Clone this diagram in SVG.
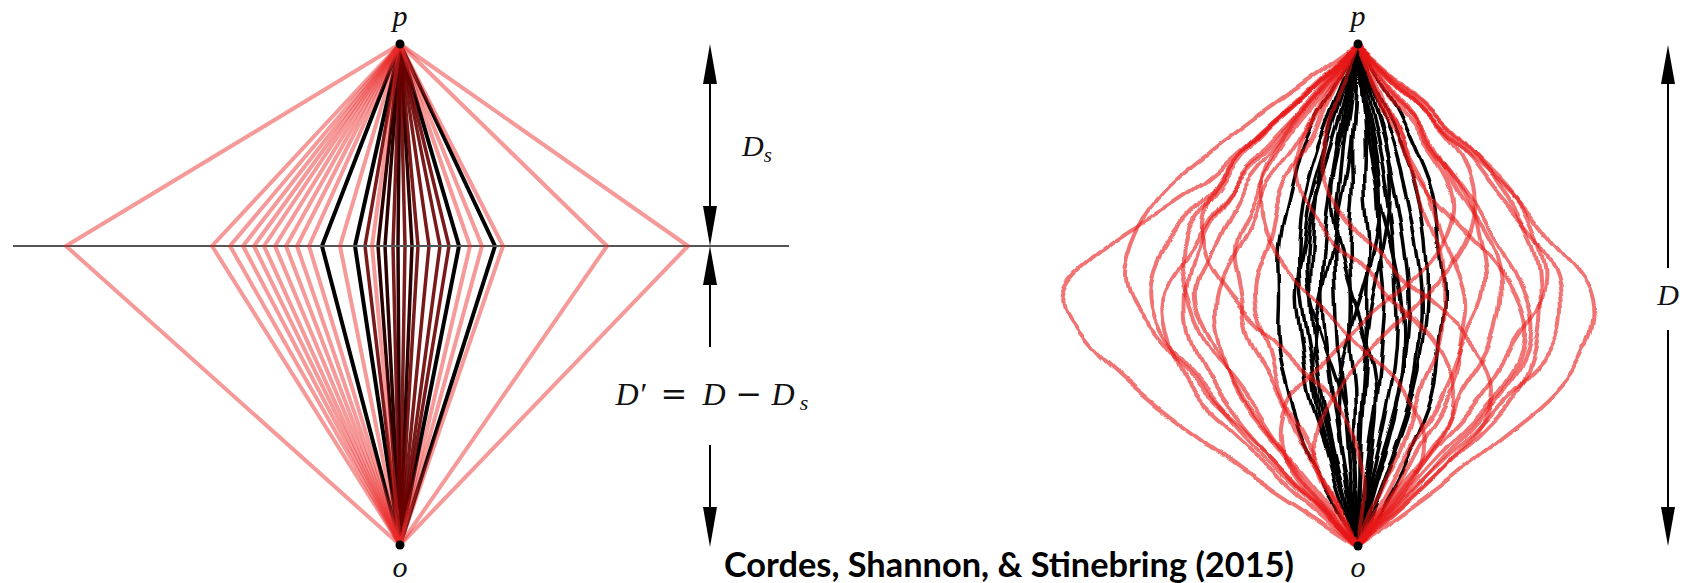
<svg xmlns="http://www.w3.org/2000/svg" width="1683" height="583" viewBox="0 0 1683 583">
<style>
.pk{fill:none;stroke:#eb2a2a;stroke-opacity:0.48;stroke-width:4;stroke-linejoin:round}
.bk{fill:none;stroke:#000;stroke-width:4;stroke-linejoin:round}
.dk{fill:none;stroke:#2a0000;stroke-width:3.5;stroke-linejoin:round}
.dr{fill:none;stroke:#6a0000;stroke-opacity:0.9;stroke-width:3.5;stroke-linejoin:round}
.rc{fill:none;stroke:#e81818;stroke-opacity:0.6;stroke-width:4;stroke-linecap:round}
.bc{fill:none;stroke:#000;stroke-width:3.5;stroke-linecap:round}
.math{font-family:"Liberation Serif","DejaVu Serif",serif;font-style:italic;fill:#111}
.op{font-family:"DejaVu Serif","Liberation Serif",serif;fill:#111}
.ax{stroke:#000;stroke-width:2;fill:none}
.ah{fill:#000}
.cap{font-family:Lato,"Open Sans",sans-serif;font-weight:700;fill:#000}
</style>
<defs>
<filter id="wobR" x="-20%" y="-5%" width="140%" height="110%" color-interpolation-filters="sRGB">
<feTurbulence type="fractalNoise" baseFrequency="0.02" numOctaves="1" seed="3" result="n"/>
<feDisplacementMap in="SourceGraphic" in2="n" scale="16" xChannelSelector="R" yChannelSelector="G" result="d"/>
<feGaussianBlur in="d" stdDeviation="0.6"/>
</filter>
<filter id="wobB" x="-20%" y="-5%" width="140%" height="110%" color-interpolation-filters="sRGB">
<feTurbulence type="fractalNoise" baseFrequency="0.022" numOctaves="1" seed="11" result="n"/>
<feDisplacementMap in="SourceGraphic" in2="n" scale="12" xChannelSelector="R" yChannelSelector="G" result="d"/>
<feGaussianBlur in="d" stdDeviation="0.6"/>
</filter>
</defs>
<rect width="1683" height="583" fill="#fff"/>

<!-- Left figure -->
<g id="left-figure">
<g id="left-center-paths">
<polyline class="bk" points="400,44 322,246 400,545"/>
<polyline class="bk" points="400,44 355,246 400,545"/>
<polyline class="bk" points="400,44 459,246 400,545"/>
<polyline class="bk" points="400,44 495,246 400,545"/>
<polyline class="dk" points="400,44 378,246 400,545"/>
<polyline class="dk" points="400,44 385,246 400,545"/>
<polyline class="dk" points="400,44 398,246 400,545"/>
<polyline class="dk" points="400,44 412,246 400,545"/>
<polyline class="dr" points="400,44 365,246 400,545"/>
<polyline class="dr" points="400,44 393,246 400,545"/>
<polyline class="dr" points="400,44 405,246 400,545"/>
<polyline class="dr" points="400,44 418,246 400,545"/>
<polyline class="dr" points="400,44 429,246 400,545"/>
<polyline class="dr" points="400,44 440,246 400,545"/>
<polyline class="dr" points="400,44 449,246 400,545"/>
</g>
<line id="screen-line" x1="13" y1="246" x2="789" y2="246" stroke="#555" stroke-width="2"/>
<g id="left-outer-paths">
<polyline class="pk" points="400,44 66,246 400,545"/>
<polyline class="pk" points="400,44 212,246 400,545"/>
<polyline class="pk" points="400,44 230,246 400,545"/>
<polyline class="pk" points="400,44 243,246 400,545"/>
<polyline class="pk" points="400,44 254,246 400,545"/>
<polyline class="pk" points="400,44 264,246 400,545"/>
<polyline class="pk" points="400,44 275,246 400,545"/>
<polyline class="pk" points="400,44 286,246 400,545"/>
<polyline class="pk" points="400,44 297,246 400,545"/>
<polyline class="pk" points="400,44 309,246 400,545"/>
<polyline class="pk" points="400,44 340,246 400,545"/>
<polyline class="pk" points="400,44 372,246 400,545"/>
<polyline class="pk" points="400,44 470,246 400,545"/>
<polyline class="pk" points="400,44 482,246 400,545"/>
<polyline class="pk" points="400,44 503,246 400,545"/>
<polyline class="pk" points="400,44 607,246 400,545"/>
<polyline class="pk" points="400,44 688,246 400,545"/>
</g>
<g id="left-p"><circle cx="400" cy="44" r="4.5" fill="#000"/><text class="math" x="400" y="26" font-size="30" text-anchor="middle">p</text></g>
<g id="left-o"><circle cx="400" cy="545" r="4.5" fill="#000"/><text class="math" x="400" y="577" font-size="30" text-anchor="middle">o</text></g>
</g>

<!-- Right figure -->
<g id="right-figure">
<g id="right-black-paths" transform="translate(1358,0)" filter="url(#wobB)">
<path class="bc" d="M0 44Q-28 94 -42 119Q-56 144 -62 169Q-68 194 -74 219Q-80 244 -79 269Q-78 294 -79 319Q-80 344 -74 369Q-68 394 -62 419Q-56 444 -42 469Q-28 494 0 546"/>
<path class="bc" d="M0 44Q-20 94 -26 119Q-32 144 -40 169Q-48 194 -51 219Q-54 244 -59 269Q-64 294 -60 319Q-56 344 -53 369Q-50 394 -41 419Q-32 444 -26 469Q-20 494 0 546"/>
<path class="bc" d="M0 44Q-16 94 -24 119Q-32 144 -37 169Q-42 194 -44 219Q-46 244 -47 269Q-48 294 -46 319Q-44 344 -40 369Q-36 394 -31 419Q-26 444 -20 469Q-14 494 0 546"/>
<path class="bc" d="M0 44Q-10 94 -15 119Q-20 144 -24 169Q-28 194 -31 219Q-34 244 -35 269Q-36 294 -34 319Q-32 344 -29 369Q-26 394 -22 419Q-18 444 -14 469Q-10 494 0 546"/>
<path class="bc" d="M0 44Q-6 94 -10 119Q-14 144 -16 169Q-18 194 -21 219Q-24 244 -23 269Q-22 294 -21 319Q-20 344 -17 369Q-14 394 -12 419Q-10 444 -8 469Q-6 494 0 546"/>
<path class="bc" d="M0 44Q-2 94 -4 119Q-6 144 -5 169Q-4 194 -7 219Q-10 244 -8 269Q-6 294 -7 319Q-8 344 -5 369Q-2 394 -3 419Q-4 444 -3 469Q-2 494 0 546"/>
<path class="bc" d="M0 44Q4 94 6 119Q8 144 7 169Q6 194 9 219Q12 244 10 269Q8 294 9 319Q10 344 8 369Q6 394 5 419Q4 444 3 469Q2 494 0 546"/>
<path class="bc" d="M0 44Q6 94 10 119Q14 144 17 169Q20 194 21 219Q22 244 25 269Q28 294 26 319Q24 344 22 369Q20 394 16 419Q12 444 9 469Q6 494 0 546"/>
<path class="bc" d="M0 44Q10 94 15 119Q20 144 25 169Q30 194 33 219Q36 244 37 269Q38 294 39 319Q40 344 36 369Q32 394 27 419Q22 444 16 469Q10 494 0 546"/>
<path class="bc" d="M0 44Q14 94 20 119Q26 144 32 169Q38 194 42 219Q46 244 49 269Q52 294 51 319Q50 344 46 369Q42 394 36 419Q30 444 22 469Q14 494 0 546"/>
<path class="bc" d="M0 44Q18 94 27 119Q36 144 42 169Q48 194 53 219Q58 244 61 269Q64 294 63 319Q62 344 58 369Q54 394 46 419Q38 444 29 469Q20 494 0 546"/>
<path class="bc" d="M0 44Q34 94 45 119Q56 144 66.5 169Q77 194 79 219Q81 244 84.5 269Q88 294 85 319Q82 344 79.5 369Q77 394 66.5 419Q56 444 45 469Q34 494 0 546"/>
<path class="bc" d="M0 44Q-6 94 -12 119Q-18 144 -23 169Q-28 194 -24 219Q-20 244 -13 269Q-6 294 2 319Q10 344 15 369Q20 394 18 419Q16 444 12 469Q8 494 0 546"/>
<path class="bc" d="M0 44Q6 94 11 119Q16 144 20 169Q24 194 21 219Q18 244 11 269Q4 294 -4 319Q-12 344 -17 369Q-22 394 -20 419Q-18 444 -13 469Q-8 494 0 546"/>
<path class="bc" d="M0 44Q-12 94 -19 119Q-26 144 -34 169Q-42 194 -47 219Q-52 244 -51 269Q-50 294 -42 319Q-34 344 -25 369Q-16 394 -11 419Q-6 444 -4 469Q-2 494 0 546"/>
<path class="bc" d="M0 44Q4 94 7 119Q10 144 15 169Q20 194 27 219Q34 244 39 269Q44 294 46 319Q48 344 45 369Q42 394 35 419Q28 444 20 469Q12 494 0 546"/>
<path class="bc" d="M0 44Q14 94 21 119Q28 144 31 169Q34 194 30 219Q26 244 21 269Q16 294 12 319Q8 344 6 369Q4 394 3 419Q2 444 2 469Q2 494 0 546"/>
<path class="bc" d="M0 44Q-2 94 -4 119Q-6 144 -10 169Q-14 194 -19 219Q-24 244 -30 269Q-36 294 -41 319Q-46 344 -45 369Q-44 394 -38 419Q-32 444 -23 469Q-14 494 0 546"/>
<path class="bc" d="M0 44Q-20 94 -30 119Q-40 144 -47 169Q-54 194 -57 219Q-60 244 -59 269Q-58 294 -54 319Q-50 344 -45 369Q-40 394 -34 419Q-28 444 -21 469Q-14 494 0 546"/>
<path class="bc" d="M0 44Q22 94 33 119Q44 144 52 169Q60 194 64 219Q68 244 69 269Q70 294 68 319Q66 344 61 369Q56 394 48 419Q40 444 30 469Q20 494 0 546"/>
</g>
<g id="right-red-paths" transform="translate(1358,0)" filter="url(#wobR)">
<path class="rc" d="M0 44Q-54 94 -81 119Q-108 144 -137 169Q-166 194 -208 219Q-250 244 -277.5 269Q-305 294 -288.5 319Q-272 344 -245 369Q-218 394 -185 419Q-152 444 -116 469Q-80 494 0 546"/>
<path class="rc" d="M0 44Q-70 94 -104 119Q-138 144 -169 169Q-200 194 -214 219Q-228 244 -231.5 269Q-235 294 -215 319Q-195 344 -175 369Q-155 394 -126.5 419Q-98 444 -75 469Q-52 494 0 546"/>
<path class="rc" d="M0 44Q-50 94 -81 119Q-112 144 -129 169Q-146 194 -171 219Q-196 244 -204 269Q-212 294 -203 319Q-194 344 -171 369Q-148 394 -128 419Q-108 444 -80 469Q-52 494 0 546"/>
<path class="rc" d="M0 44Q-46 94 -64 119Q-82 144 -107 169Q-132 194 -147 219Q-162 244 -180 269Q-198 294 -194 319Q-190 344 -179 369Q-168 394 -140 419Q-112 444 -87 469Q-62 494 0 546"/>
<path class="rc" d="M0 44Q-50 94 -79 119Q-108 144 -126 169Q-144 194 -162 219Q-180 244 -175 269Q-170 294 -161 319Q-152 344 -131 369Q-110 394 -95 419Q-80 444 -58 469Q-36 494 0 546"/>
<path class="rc" d="M0 44Q-44 94 -61 119Q-78 144 -99 169Q-120 194 -130 219Q-140 244 -154 269Q-168 294 -155 319Q-142 344 -131 369Q-120 394 -99 419Q-78 444 -61 469Q-44 494 0 546"/>
<path class="rc" d="M0 44Q-34 94 -46 119Q-58 144 -77.5 169Q-97 194 -106.5 219Q-116 244 -130.5 269Q-145 294 -141.5 319Q-138 344 -130.5 369Q-123 394 -101.5 419Q-80 444 -63 469Q-46 494 0 546"/>
<path class="rc" d="M0 44Q-35 94 -55.5 119Q-76 144 -87.5 169Q-99 194 -113 219Q-127 244 -122 269Q-117 294 -112.5 319Q-108 344 -92 369Q-76 394 -66.5 419Q-57 444 -40.5 469Q-24 494 0 546"/>
<path class="rc" d="M0 44Q-30 94 -39 119Q-48 144 -63 169Q-78 194 -83 219Q-88 244 -98 269Q-108 294 -98 319Q-88 344 -83 369Q-78 394 -63 419Q-48 444 -38 469Q-28 494 0 546"/>
<path class="rc" d="M0 44Q52 94 76 119Q100 144 129 169Q158 194 176.5 219Q195 244 216.5 269Q238 294 235 319Q232 344 216 369Q200 394 168 419Q136 444 105 469Q74 494 0 546"/>
<path class="rc" d="M0 44Q48 94 76 119Q104 144 122 169Q140 194 162 219Q184 244 194.5 269Q205 294 202.5 319Q200 344 175 369Q150 394 127 419Q104 444 76 469Q48 494 0 546"/>
<path class="rc" d="M0 44Q60 94 83 119Q106 144 133 169Q160 194 171 219Q182 244 185 269Q188 294 171 319Q154 344 140 369Q126 394 102 419Q78 444 60 469Q42 494 0 546"/>
<path class="rc" d="M0 44Q40 94 55 119Q70 144 91.5 169Q113 194 125 219Q137 244 153 269Q169 294 172 319Q175 344 159 369Q143 394 119.5 419Q96 444 75 469Q54 494 0 546"/>
<path class="rc" d="M0 44Q34 94 56 119Q78 144 89.5 169Q101 194 118.5 219Q136 244 141 269Q146 294 141 319Q136 344 118.5 369Q101 394 89.5 419Q78 444 56 469Q34 494 0 546"/>
<path class="rc" d="M0 44Q42 94 57 119Q72 144 91.5 169Q111 194 117 219Q123 244 126.5 269Q130 294 117 319Q104 344 95.5 369Q87 394 69.5 419Q52 444 41 469Q30 494 0 546"/>
<path class="rc" d="M0 44Q26 94 35 119Q44 144 59 169Q74 194 80.5 219Q87 244 99 269Q111 294 107.5 319Q104 344 99 369Q94 394 77 419Q60 444 48 469Q36 494 0 546"/>
<path class="rc" d="M0 44Q20 94 34 119Q48 144 53.5 169Q59 194 71 219Q83 244 84.5 269Q86 294 84.5 319Q83 344 71 369Q59 394 53.5 419Q48 444 34 469Q20 494 0 546"/>
<path class="rc" d="M0 44Q-40 94 -60 119Q-80 144 -90 169Q-100 194 -95 219Q-90 244 -70 269Q-50 294 -25 319Q0 344 25 369Q50 394 60 419Q70 444 60 469Q50 494 0 546"/>
<path class="rc" d="M0 44Q30 94 50 119Q70 144 85 169Q100 194 95 219Q90 244 65 269Q40 294 10 319Q-20 344 -45 369Q-70 394 -75 419Q-80 444 -65 469Q-50 494 0 546"/>
<path class="rc" d="M0 44Q-30 94 -45 119Q-60 144 -60 169Q-60 194 -40 219Q-20 244 5 269Q30 294 55 319Q80 344 90 369Q100 394 90 419Q80 444 60 469Q40 494 0 546"/>
<path class="rc" d="M0 44Q50 94 75 119Q100 144 110 169Q120 194 115 219Q110 244 90 269Q70 294 45 319Q20 344 -5 369Q-30 394 -40 419Q-50 444 -40 469Q-30 494 0 546"/>
<path class="rc" d="M0 44Q-20 94 -30 119Q-40 144 -35 169Q-30 194 -10 219Q10 244 35 269Q60 294 90 319Q120 344 130 369Q140 394 125 419Q110 444 85 469Q60 494 0 546"/>
<path class="rc" d="M0 44Q-50 94 -80 119Q-110 144 -130 169Q-150 194 -155 219Q-160 244 -145 269Q-130 294 -105 319Q-80 344 -55 369Q-30 394 -15 419Q0 444 5 469Q10 494 0 546"/>
<path class="rc" d="M0 44Q20 94 30 119Q40 144 55 169Q70 194 95 219Q120 244 140 269Q160 294 165 319Q170 344 155 369Q140 394 115 419Q90 444 67.5 469Q45 494 0 546"/>
<path class="rc" d="M0 44Q-40 94 -65 119Q-90 144 -110 169Q-130 194 -145 219Q-160 244 -166 269Q-172 294 -170 319Q-168 344 -154 369Q-140 394 -120 419Q-100 444 -75 469Q-50 494 0 546"/>
<path class="rc" d="M0 44Q56 94 83 119Q110 144 130 169Q150 194 163 219Q176 244 179 269Q182 294 180 319Q178 344 169 369Q160 394 136 419Q112 444 85 469Q58 494 0 546"/>
</g>
<g id="right-p"><circle cx="1358" cy="44" r="4.5" fill="#000"/><text class="math" x="1358" y="26" font-size="30" text-anchor="middle">p</text></g>
<g id="right-o"><circle cx="1358" cy="546" r="4.5" fill="#000"/><text class="math" x="1358" y="577" font-size="30" text-anchor="middle">o</text></g>
</g>

<!-- Dimension arrows -->
<g id="connectors">
<g id="arrow-Ds">
<line class="ax" x1="710" y1="80" x2="710" y2="210"/>
<polygon class="ah" points="710,44 703,84 717,84"/>
<polygon class="ah" points="710,246 703,206 717,206"/>
</g>
<g id="arrow-Dprime">
<line class="ax" x1="710" y1="280" x2="710" y2="347"/>
<line class="ax" x1="710" y1="445" x2="710" y2="510"/>
<polygon class="ah" points="710,246 703,285 717,285"/>
<polygon class="ah" points="710,547 703,507 717,507"/>
</g>
<g id="arrow-D">
<line class="ax" x1="1668" y1="80" x2="1668" y2="268"/>
<line class="ax" x1="1668" y1="330" x2="1668" y2="510"/>
<polygon class="ah" points="1668,45 1661,84 1675,84"/>
<polygon class="ah" points="1668,546 1661,507 1675,507"/>
</g>
</g>

<g id="label-Ds"><text class="math" x="742" y="156" font-size="30">D<tspan font-size="21" dy="6">s</tspan></text></g>
<g id="label-Dprime">
<text class="math" x="627" y="405" font-size="32" text-anchor="middle">D</text>
<text class="math" x="642" y="405" font-size="32" text-anchor="middle">′</text>
<text class="op" x="674" y="405" font-size="32" text-anchor="middle">=</text>
<text class="math" x="714" y="405" font-size="32" text-anchor="middle">D</text>
<text class="op" x="749" y="405" font-size="32" text-anchor="middle">−</text>
<text class="math" x="783" y="405" font-size="32" text-anchor="middle">D</text>
<text class="math" x="804" y="410" font-size="22" text-anchor="middle">s</text>
</g>
<g id="label-D"><text class="math" x="1668" y="305" font-size="30" text-anchor="middle">D</text></g>
<g id="caption"><text class="cap" x="724" y="577" font-size="34" textLength="570" lengthAdjust="spacingAndGlyphs">Cordes, Shannon, &amp; Stinebring (2015)</text></g>
</svg>
